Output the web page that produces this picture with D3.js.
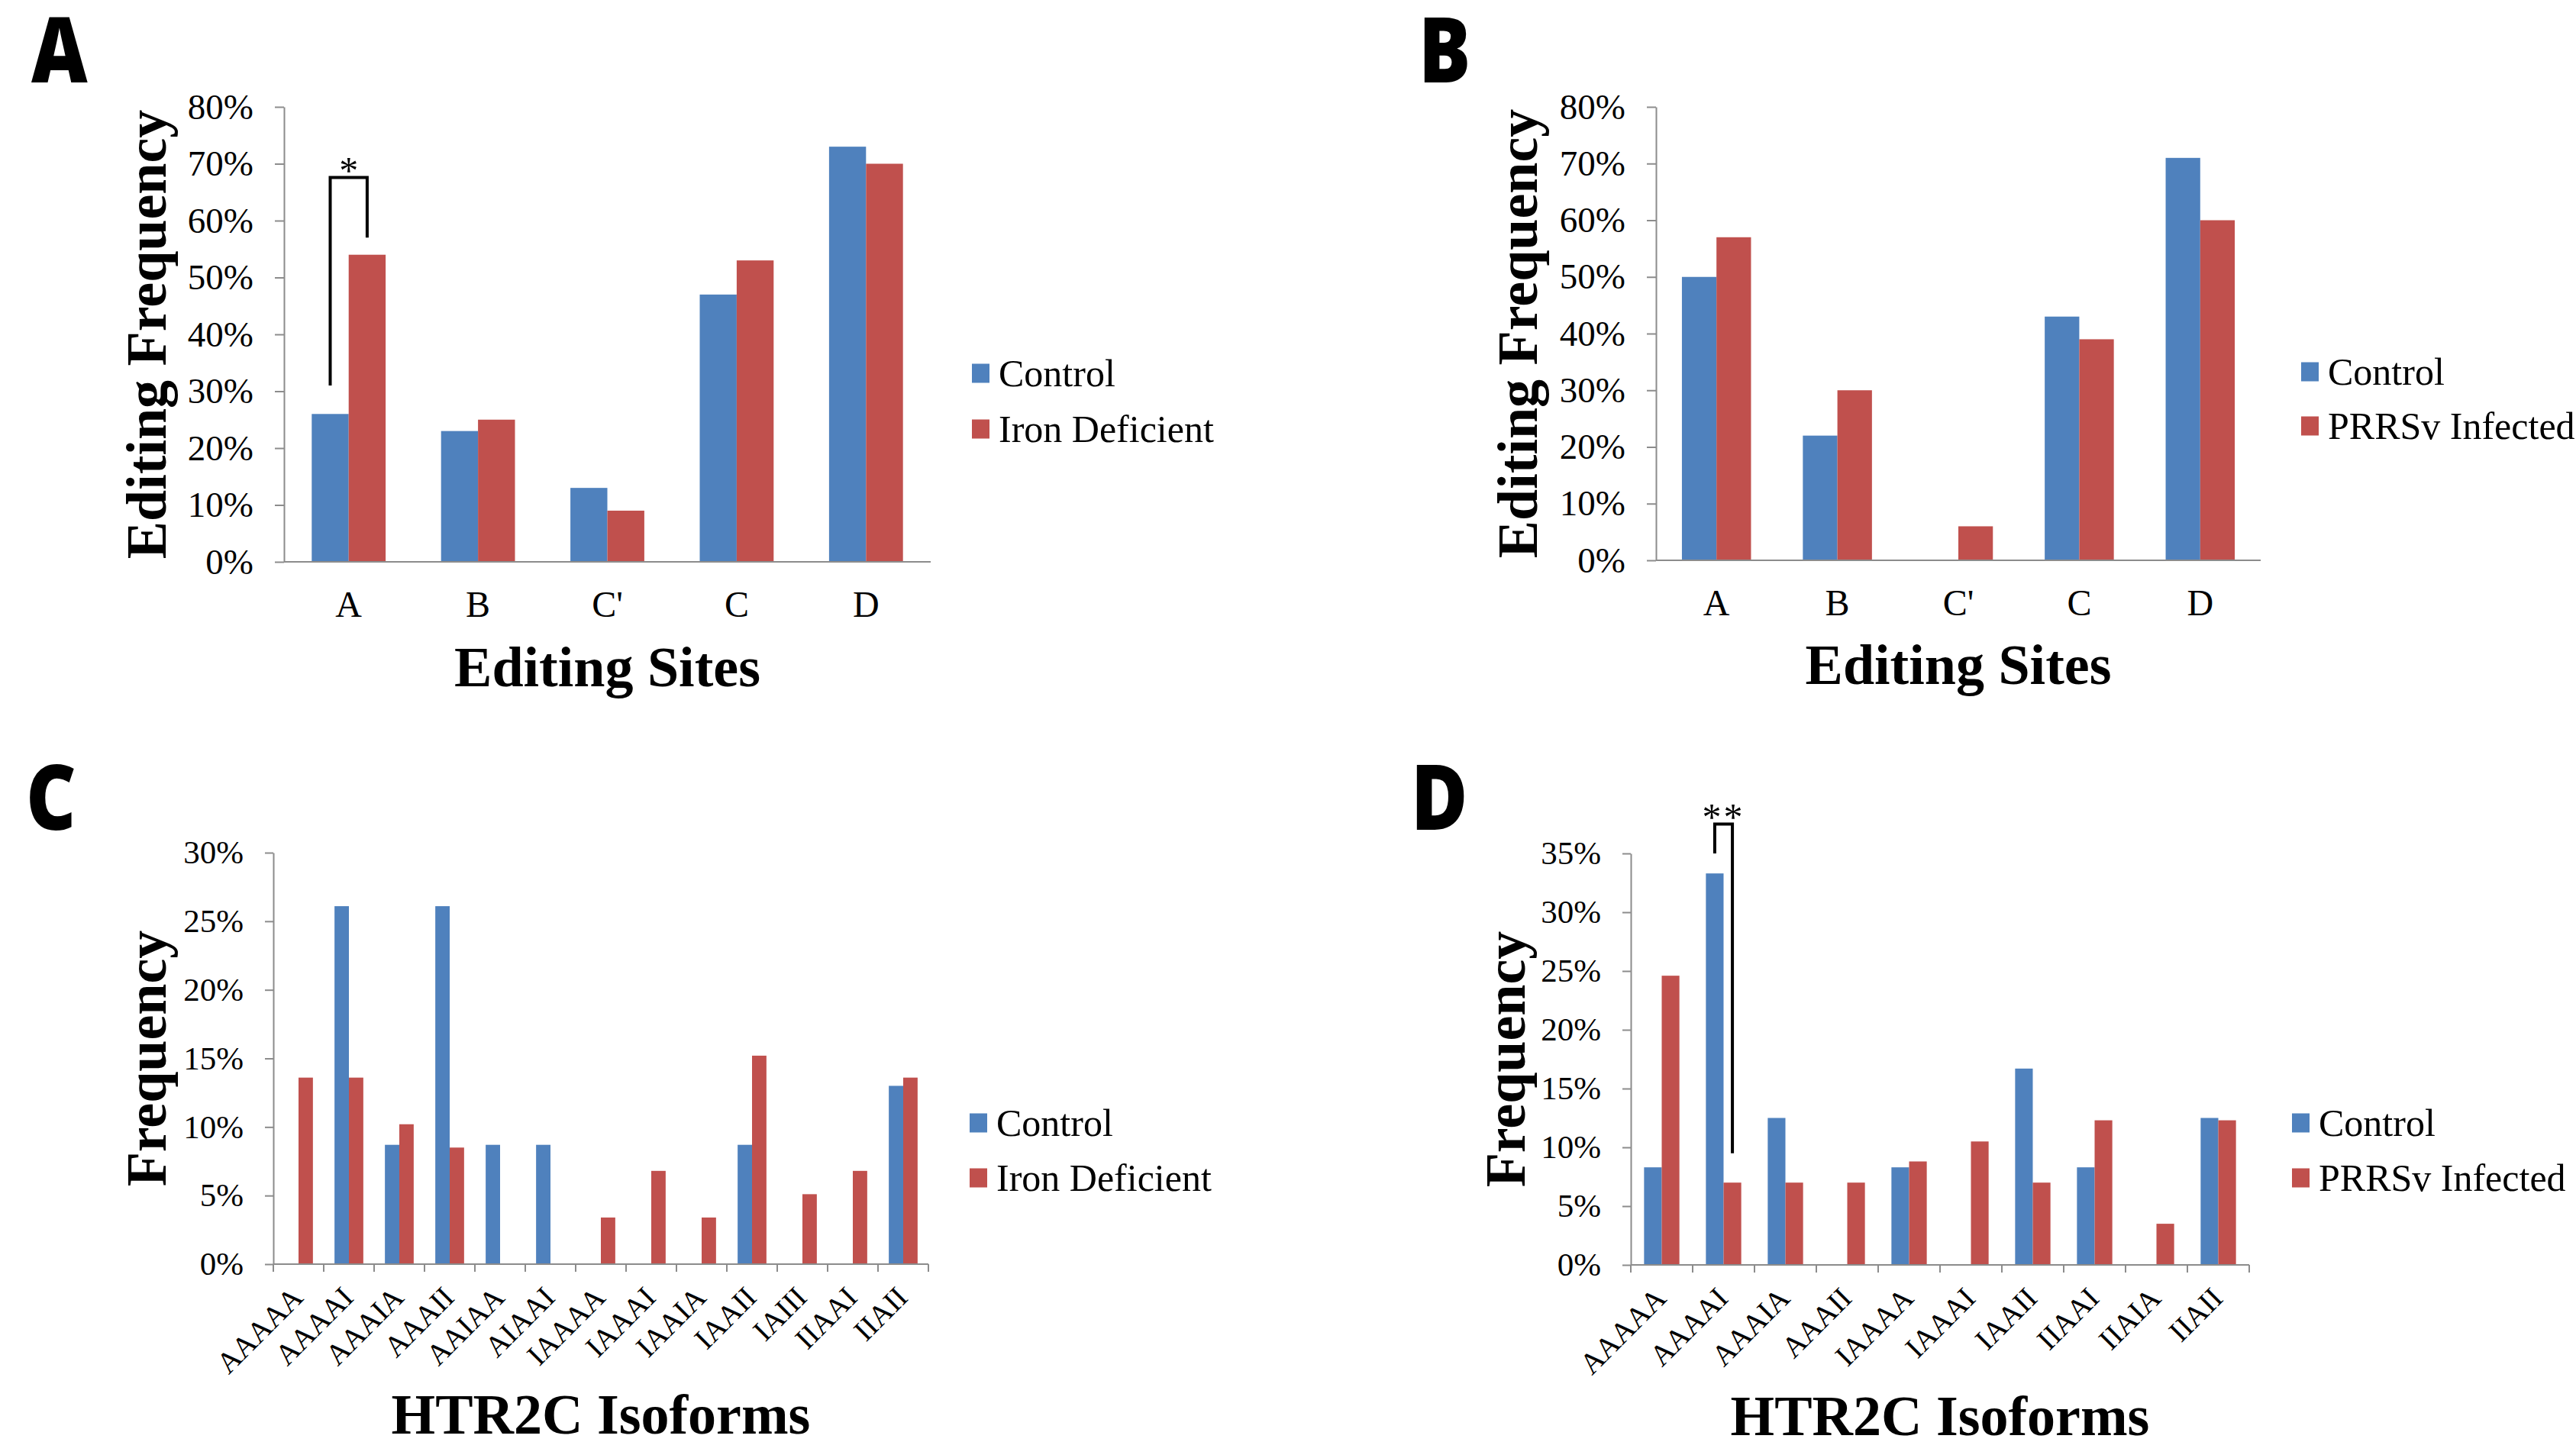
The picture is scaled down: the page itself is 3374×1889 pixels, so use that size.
<!DOCTYPE html>
<html>
<head>
<meta charset="utf-8">
<script src="https://cdn.jsdelivr.net/npm/d3@7/dist/d3.min.js"></script>
<style>
  html, body { margin: 0; padding: 0; background: #ffffff; }
  svg { display: block; }
</style>
</head>
<body>
<svg id="chart" width="3374" height="1889"></svg>
<script>
// ---------- DATA ----------
const siteCategories = ["A", "B", "C'", "C", "D"];
const siteControlIron = [0.26, 0.23, 0.13, 0.47, 0.73];
const siteIronDeficient = [0.54, 0.25, 0.09, 0.53, 0.70];
const siteControlPRRS = [0.50, 0.22, 0.00, 0.43, 0.71];
const sitePRRSInfected = [0.57, 0.30, 0.06, 0.39, 0.60];

const isoCategoriesIron = ["AAAAA", "AAAAI", "AAAIA", "AAAII", "AAIAA", "AIAAI", "IAAAA", "IAAAI", "IAAIA", "IAAII", "IAIII", "IIAAI", "IIAII"];
const isoControlIron = [0.000, 0.261, 0.087, 0.261, 0.087, 0.087, 0.000, 0.000, 0.000, 0.087, 0.000, 0.000, 0.130];
const isoIronDeficient = [0.136, 0.136, 0.102, 0.085, 0.000, 0.000, 0.034, 0.068, 0.034, 0.152, 0.051, 0.068, 0.136];

const isoCategoriesPRRS = ["AAAAA", "AAAAI", "AAAIA", "AAAII", "IAAAA", "IAAAI", "IAAII", "IIAAI", "IIAIA", "IIAII"];
const isoControlPRRS = [0.083, 0.333, 0.125, 0.000, 0.083, 0.000, 0.167, 0.083, 0.000, 0.125];
const isoPRRSInfected = [0.246, 0.070, 0.070, 0.070, 0.088, 0.105, 0.070, 0.123, 0.035, 0.123];

const ticksSites = [0, 0.1, 0.2, 0.3, 0.4, 0.5, 0.6, 0.7, 0.8];
const ticksIsoIron = [0, 0.05, 0.10, 0.15, 0.20, 0.25, 0.30];
const ticksIsoPRRS = [0, 0.05, 0.10, 0.15, 0.20, 0.25, 0.30, 0.35];

const seriesNames = ["Control", "Iron Deficient", "PRRSv Infected"];
const panelLetters = ["A", "B", "C", "D"];
const xTitles = ["Editing Sites", "HTR2C Isoforms"];
const yTitles = ["Editing Frequency", "Frequency"];

// significance brackets: category, top, left-end, right-end (data units), label
const sigA = { cat: "A", top: 0.676, left: 0.31, right: 0.57, label: "*" };
const sigD = { cat: "AAAAI", top: 0.375, left: 0.35, right: 0.095, label: "**" };

// ---------- STYLE ----------
const BLUE = "#4F81BD", RED = "#C0504D", AXIS = "#8c8c8c";
const SERIF = "'Liberation Serif', 'Times New Roman', serif";
const SANS = "'Open Sans', 'Noto Sans', sans-serif";

const svg = d3.select("#chart");

function panel(cfg) {
  const g = svg.append("g");
  const x = d3.scaleBand().domain(cfg.cats).range([cfg.x0, cfg.x1]).paddingInner(0).paddingOuter(0);
  const y = d3.scaleLinear().domain([0, cfg.max]).range([cfg.y0, cfg.yTop]);
  const bw = x.bandwidth();
  const gap = bw * 1.5 / 3.5;
  const xs = d3.scaleBand().domain([0, 1]).range([gap / 2, bw - gap / 2]).padding(0);

  // bars
  const series = [cfg.s1, cfg.s2];
  const colors = [BLUE, RED];
  series.forEach((vals, si) => {
    g.selectAll(null).data(vals).enter().append("rect")
      .attr("x", (d, i) => x(cfg.cats[i]) + xs(si))
      .attr("width", xs.bandwidth())
      .attr("y", d => y(d))
      .attr("height", d => y(0) - y(d))
      .attr("fill", colors[si]);
  });

  // y axis
  const yAxis = d3.axisLeft(y).tickValues(cfg.ticks).tickFormat(d3.format(".0%"))
    .tickSizeInner(cfg.tickLen).tickSizeOuter(0).tickPadding(cfg.tickPad);
  const ya = g.append("g").attr("transform", `translate(${cfg.x0},0)`).call(yAxis);
  ya.select(".domain").attr("stroke", AXIS).attr("stroke-width", 2);
  ya.selectAll(".tick line").attr("stroke", AXIS).attr("stroke-width", 2);
  ya.selectAll(".tick text").attr("font-family", SERIF).attr("font-size", cfg.tickFont).attr("fill", "#000");

  // x axis line
  g.append("line").attr("x1", cfg.x0).attr("x2", cfg.x1).attr("y1", cfg.y0).attr("y2", cfg.y0)
    .attr("stroke", AXIS).attr("stroke-width", 2);

  if (cfg.rotated) {
    const bounds = cfg.cats.map(c => x(c)).concat([cfg.x1]);
    g.selectAll(null).data(bounds).enter().append("line")
      .attr("x1", d => d).attr("x2", d => d).attr("y1", cfg.y0).attr("y2", cfg.y0 + 10)
      .attr("stroke", AXIS).attr("stroke-width", 2);
    g.selectAll(null).data(cfg.cats).enter().append("text")
      .attr("transform", d => `translate(${x(d) + bw / 2 + 8},${cfg.y0 + 46}) rotate(-45)`)
      .attr("text-anchor", "end")
      .attr("font-family", SERIF).attr("font-size", 39).attr("fill", "#000")
      .text(d => d);
  } else {
    g.selectAll(null).data(cfg.cats).enter().append("text")
      .attr("x", d => x(d) + bw / 2).attr("y", cfg.catBase)
      .attr("text-anchor", "middle")
      .attr("font-family", SERIF).attr("font-size", 48).attr("fill", "#000")
      .text(d => d);
  }

  // axis titles
  g.append("text").attr("x", (cfg.x0 + cfg.x1) / 2).attr("y", cfg.xTitleBase)
    .attr("text-anchor", "middle").attr("font-family", SERIF).attr("font-weight", "bold")
    .attr("font-size", 74).attr("fill", "#000").text(cfg.xTitle);
  g.append("text").attr("transform", `translate(${cfg.yTitleX},${(cfg.y0 + cfg.yTop) / 2}) rotate(-90)`)
    .attr("text-anchor", "middle").attr("font-family", SERIF).attr("font-weight", "bold")
    .attr("font-size", 74).attr("fill", "#000").text(cfg.yTitle);

  // panel letter
  g.append("text").attr("transform", `translate(${cfg.letterX},${cfg.letterBase}) scale(0.86,1)`)
    .attr("font-family", SANS).attr("font-weight", 800).attr("font-size", 118)
    .attr("fill", "#000").text(cfg.letter);

  // legend
  const leg = [cfg.n1, cfg.n2];
  leg.forEach((name, i) => {
    const cy = cfg.legY[i];
    g.append("rect").attr("x", cfg.legX).attr("y", cy - 12.5).attr("width", 23).attr("height", 25)
      .attr("fill", colors[i]);
    g.append("text").attr("x", cfg.legX + 35).attr("y", cy + 16.5)
      .attr("font-family", SERIF).attr("font-size", 50).attr("fill", "#000").text(name);
  });

  // significance bracket
  if (cfg.sig) {
    const s = cfg.sig;
    const xl = x(s.cat) + xs(0) + xs.bandwidth() / 2;
    const xr = x(s.cat) + xs(1) + xs.bandwidth() / 2;
    const path = d3.path();
    path.moveTo(xl, y(s.left)); path.lineTo(xl, y(s.top)); path.lineTo(xr, y(s.top)); path.lineTo(xr, y(s.right));
    g.append("path").attr("d", path.toString()).attr("fill", "none").attr("stroke", "#000").attr("stroke-width", 4);
    g.append("text").attr("x", (xl + xr) / 2).attr("y", y(s.top) + cfg.starDy)
      .attr("text-anchor", "middle").attr("font-family", SERIF).attr("font-size", 50)
      .attr("letter-spacing", cfg.starSpacing || 0)
      .attr("fill", "#000").text(s.label);
  }
}

panel({
  cats: siteCategories, s1: siteControlIron, s2: siteIronDeficient, max: 0.8, ticks: ticksSites,
  x0: 372, x1: 1219, y0: 736, yTop: 140, tickLen: 12, tickPad: 28, tickFont: 47,
  catBase: 808, xTitle: xTitles[0], xTitleBase: 899, yTitle: yTitles[0], yTitleX: 217,
  letter: panelLetters[0], letterX: 41, letterBase: 108,
  n1: seriesNames[0], n2: seriesNames[1], legX: 1273, legY: [489, 562],
  sig: sigA, starDy: 8
});

panel({
  cats: siteCategories, s1: siteControlPRRS, s2: sitePRRSInfected, max: 0.8, ticks: ticksSites,
  x0: 2169, x1: 2961, y0: 734, yTop: 140, tickLen: 12, tickPad: 28, tickFont: 47,
  catBase: 806, xTitle: xTitles[0], xTitleBase: 896, yTitle: yTitles[0], yTitleX: 2013,
  letter: panelLetters[1], letterX: 1858, letterBase: 108,
  n1: seriesNames[0], n2: seriesNames[2], legX: 3014, legY: [487, 558]
});

panel({
  cats: isoCategoriesIron, s1: isoControlIron, s2: isoIronDeficient, max: 0.30, ticks: ticksIsoIron,
  x0: 358, x1: 1216, y0: 1656, yTop: 1117, tickLen: 11, tickPad: 28, tickFont: 43,
  rotated: true, xTitle: xTitles[1], xTitleBase: 1878, yTitle: yTitles[1], yTitleX: 217,
  letter: panelLetters[2], letterX: 34, letterBase: 1087,
  n1: seriesNames[0], n2: seriesNames[1], legX: 1270, legY: [1471, 1543]
});

panel({
  cats: isoCategoriesPRRS, s1: isoControlPRRS, s2: isoPRRSInfected, max: 0.35, ticks: ticksIsoPRRS,
  x0: 2136, x1: 2946, y0: 1657, yTop: 1118, tickLen: 11, tickPad: 28, tickFont: 43,
  rotated: true, xTitle: xTitles[1], xTitleBase: 1880, yTitle: yTitles[1], yTitleX: 1997,
  letter: panelLetters[3], letterX: 1848, letterBase: 1087,
  n1: seriesNames[0], n2: seriesNames[2], legX: 3002, legY: [1471, 1543],
  sig: sigD, starDy: 7, starSpacing: 3
});
</script>
</body>
</html>
